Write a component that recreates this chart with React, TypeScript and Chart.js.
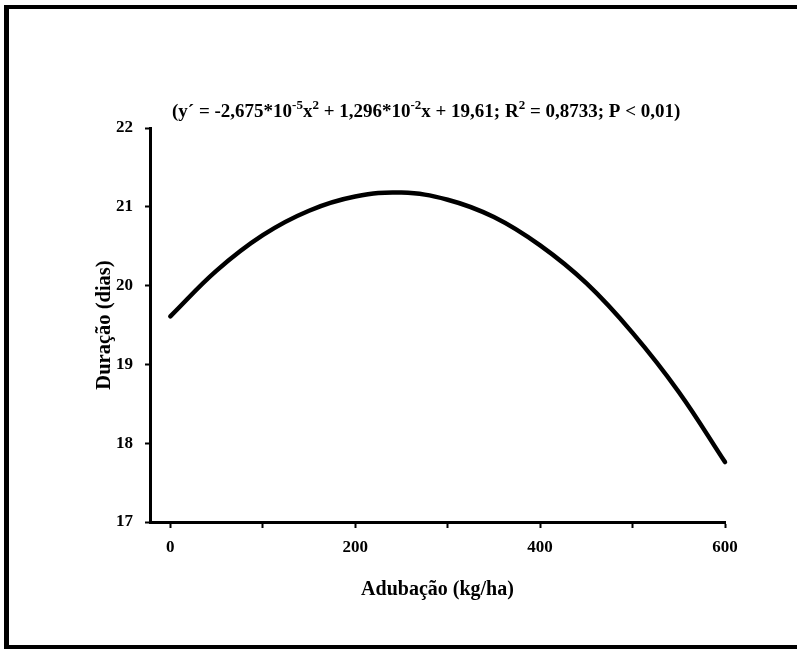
import { useEffect, useRef } from 'react';
import { Chart, registerables } from 'chart.js';

Chart.register(...registerables);

const adubacao = [0, 50, 100, 150, 200, 250, 300, 350, 400, 450, 500, 550, 600];
const duracao = [19.61, 20.19, 20.64, 20.95, 21.13, 21.18, 21.09, 20.87, 20.51, 20.03, 19.4, 18.65, 17.76];
const xTicks = [0, 100, 200, 300, 400, 500, 600];
const xTickLabels = ['0', '', '200', '', '400', '', '600'];
const yTicks = [17, 18, 19, 20, 21, 22];
const xTitle = 'Adubação (kg/ha)';
const yTitle = 'Duração (dias)';
const equationParts: { t: string; sup?: boolean }[] = [
  { t: '(y´ = -2,675*10' },
  { t: '-5', sup: true },
  { t: 'x' },
  { t: '2', sup: true },
  { t: ' + 1,296*10' },
  { t: '-2', sup: true },
  { t: 'x + 19,61; R' },
  { t: '2', sup: true },
  { t: ' = 0,8733; P < 0,01)' },
];

const FONT = '"Liberation Serif", "Times New Roman", serif';

const decorPlugin = {
  id: 'decor',
  afterDraw(chart: any) {
    const ctx = chart.ctx as CanvasRenderingContext2D;
    ctx.save();
    ctx.fillStyle = '#000';
    // scanned frame (left, top, bottom)
    ctx.fillRect(4, 5, 5, 644);
    ctx.fillRect(4, 5, 793, 4);
    ctx.fillRect(4, 645, 793, 4);
    // equation text
    let x = 172;
    const baseY = 117;
    ctx.textBaseline = 'alphabetic';
    ctx.textAlign = 'left';
    for (const p of equationParts) {
      if (p.sup) {
        ctx.font = `bold 13px ${FONT}`;
        ctx.fillText(p.t, x, baseY - 8);
      } else {
        ctx.font = `bold 19px ${FONT}`;
        ctx.fillText(p.t, x, baseY);
      }
      x += ctx.measureText(p.t).width;
    }
    ctx.restore();
  },
};

export default function App() {
  const ref = useRef<HTMLCanvasElement>(null);
  useEffect(() => {
    if (!ref.current) return;
    const chart = new Chart(ref.current, {
      type: 'scatter',
      data: {
        datasets: [
          {
            data: adubacao.map((x, i) => ({ x, y: duracao[i] })),
            showLine: true,
            borderColor: '#000',
            backgroundColor: '#000',
            borderWidth: 4.5,
            borderCapStyle: 'round',
            pointRadius: 0,
            tension: 0.4,
            clip: false,
          },
        ],
      },
      options: {
        responsive: false,
        animation: false,
        events: [],
        layout: { padding: { left: 92, right: 72, top: 128, bottom: 47 } },
        plugins: { legend: { display: false }, tooltip: { enabled: false } },
        scales: {
          x: {
            type: 'linear',
            min: -22,
            max: 600,
            afterBuildTicks: (s: any) => {
              s.ticks = xTicks.map((v) => ({ value: v }));
            },
            afterFit: (s: any) => {
              s.height = 80;
            },
            ticks: {
              autoSkip: false,
              maxRotation: 0,
              padding: 9,
              color: '#000',
              font: { family: FONT, size: 17, weight: 'bold' },
              callback: (_v: any, i: number) => xTickLabels[i],
            },
            grid: { drawOnChartArea: false, drawTicks: true, tickLength: 6, tickColor: '#000', tickWidth: 2 },
            border: { color: '#000', width: 3 },
            title: {
              display: true,
              text: xTitle,
              color: '#000',
              padding: 0,
              font: { family: FONT, size: 20, weight: 'bold' },
            },
          },
          y: {
            type: 'linear',
            min: 17,
            max: 22,
            afterBuildTicks: (s: any) => {
              s.ticks = yTicks.map((v) => ({ value: v }));
            },
            afterFit: (s: any) => {
              s.width = 58;
            },
            ticks: {
              padding: 12,
              color: '#000',
              font: { family: FONT, size: 17, weight: 'bold' },
            },
            grid: { drawOnChartArea: false, drawTicks: true, tickLength: 5, tickColor: '#000', tickWidth: 2 },
            border: { color: '#000', width: 3 },
            title: {
              display: true,
              text: yTitle,
              color: '#000',
              padding: 0,
              font: { family: FONT, size: 20.5, weight: 'bold' },
            },
          },
        },
      },
      plugins: [decorPlugin],
    } as any);
    return () => chart.destroy();
  }, []);
  return (
    <div style={{ position: 'absolute', left: 0, top: 0, width: 797, height: 649, background: '#fff' }}>
      <canvas ref={ref} width={797} height={649} />
    </div>
  );
}
